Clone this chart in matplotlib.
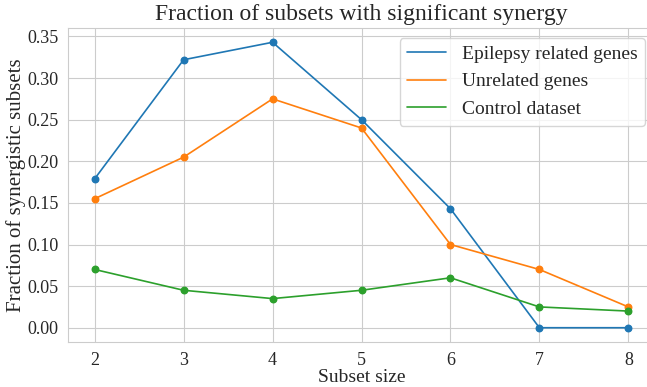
import matplotlib
matplotlib.use('Agg')
import matplotlib.pyplot as plt
import seaborn as sns

# Data
subset_sizes = [2, 3, 4, 5, 6, 7, 8]
epilepsy = [0.179, 0.322, 0.343, 0.250, 0.143, 0.0, 0.0]
unrelated = [0.155, 0.205, 0.275, 0.240, 0.100, 0.070, 0.025]
control = [0.070, 0.045, 0.035, 0.045, 0.060, 0.025, 0.020]

sns.set_style('whitegrid')
plt.rcParams['font.family'] = ['Liberation Serif', 'DejaVu Serif']

fig = plt.figure(figsize=(6.47, 3.87), dpi=100)
ax = fig.add_axes([68 / 647, 45 / 387, 587 / 647, 314 / 387])

series = [
    (epilepsy, 'Epilepsy related genes', 'C0'),
    (unrelated, 'Unrelated genes', 'C1'),
    (control, 'Control dataset', 'C2'),
]
for values, name, col in series:
    ax.plot(subset_sizes, values, color=col, lw=1.2, label=name)
    ax.scatter(subset_sizes, values, color=col, s=22, zorder=3)

ax.set_yticks([0.0, 0.05, 0.10, 0.15, 0.20, 0.25, 0.30, 0.35])
ax.set_yticklabels(['0.00', '0.05', '0.10', '0.15', '0.20', '0.25', '0.30', '0.35'])
ax.tick_params(labelsize=13, colors='.15')

ax.set_xlabel('Subset size', fontsize=14, color='.15', labelpad=0)
ax.set_ylabel('Fraction of synergistic subsets', fontsize=15, color='.15', labelpad=1)
ax.set_title('Fraction of subsets with significant synergy', fontsize=17, color='.15')
ax.legend(loc='upper right', fontsize=14)

plt.savefig('out.png', dpi=100)
